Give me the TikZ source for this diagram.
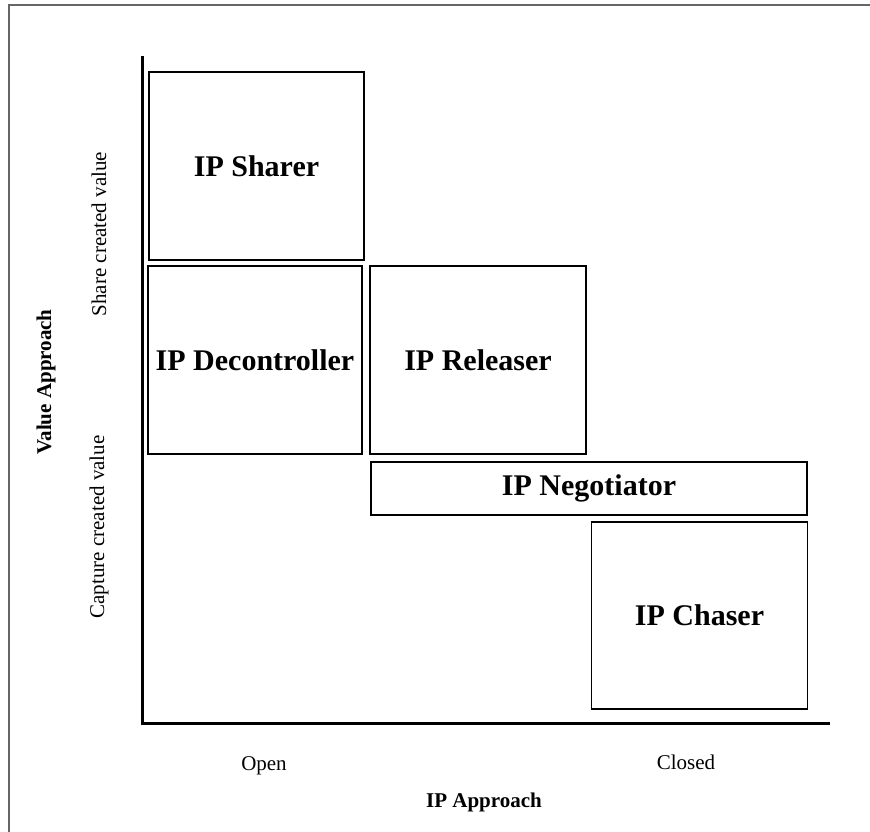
\documentclass[tikz,border=0pt]{standalone}
\usepackage{fontspec}
\setmainfont{Liberation Serif}
\usepackage{tikz}
\usetikzlibrary{positioning}
\definecolor{FrameGray}{HTML}{666666}

\begin{document}
\begin{tikzpicture}[
        x=1pt, y=-1pt,
        quad/.style={draw=black, line width=1.4pt, inner sep=0pt, align=center,
                     font=\fontsize{30}{34}\selectfont\bfseries},
        axis/.style={draw=black, line width=3pt},
        tick/.style={font=\fontsize{21}{25}\selectfont},
        title/.style={font=\fontsize{21}{25}\selectfont\bfseries},
      ]
        \useasboundingbox (0,0) rectangle (870,832);
        \draw[FrameGray, line width=1.5pt] (9,832) -- (9,5) -- (870,5);
        % axes
        \coordinate (top)    at (142,56);
        \coordinate (origin) at (142,723);
        \coordinate (right)  at (830,723);
        \draw[axis] (top) -- (origin) -- (right);
        % quadrants
        \node[quad, minimum width=215pt, minimum height=188pt] (sharer) at (256.5,166)   {IP Sharer};
        \node[quad, minimum width=214pt, minimum height=188pt] (decon)  at (255,360)     {IP Decontroller};
        \node[quad, minimum width=216pt, minimum height=188pt] (releas) at (478,360)     {IP Releaser};
        \node[quad, minimum width=436pt, minimum height=53pt]  (negot)  at (589,488.5)   {IP Negotiator};
        \node[quad, minimum width=216pt, minimum height=187pt] (chaser) at (699.5,615.5) {IP Chaser};
        % axis labels
        \node[tick] (open)   at (264,766) {Open};
        \node[tick] (closed) at (686,762) {Closed};
        \node[title] (ipapp) at (484,802) {IP Approach};
        \node[tick, rotate=90]  (share)   at (99,234) {Share created value};
        \node[tick, rotate=90]  (capture) at (99,527) {Capture created value};
        \node[title, rotate=90] (valapp)  at (46,382) {Value Approach};
      \end{tikzpicture}
\end{document}
